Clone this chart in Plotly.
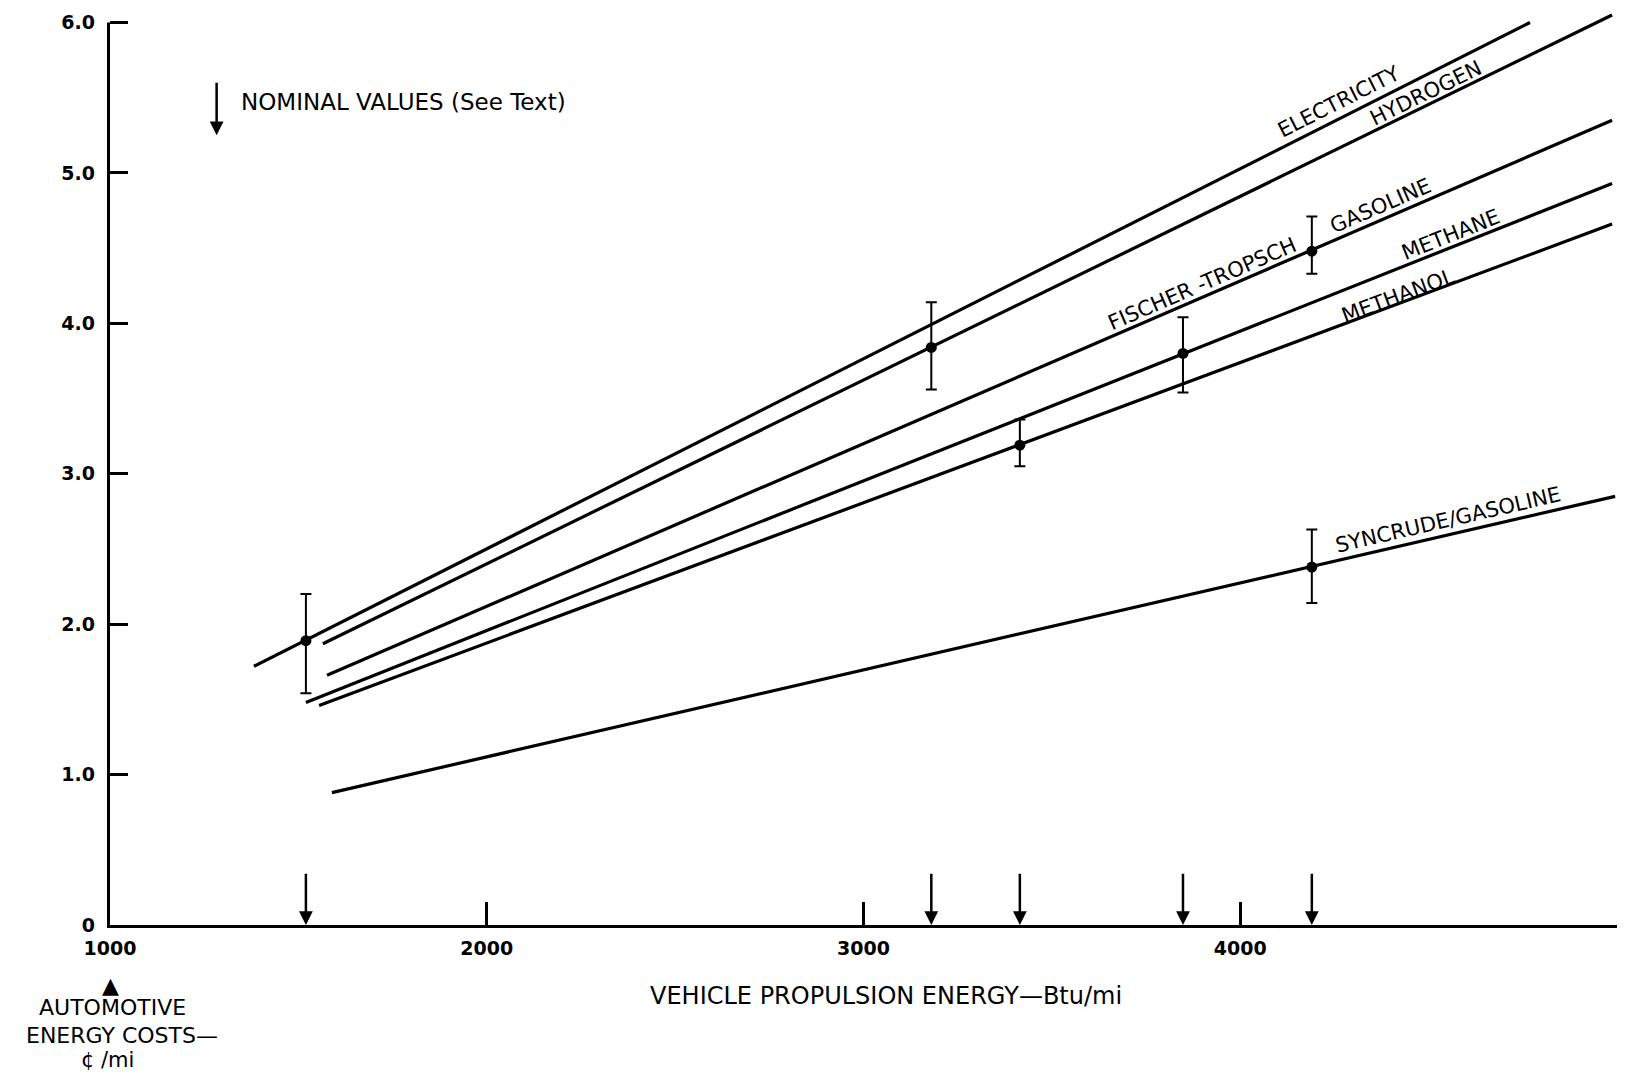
import math
import plotly.graph_objects as go

# ---------------- data ----------------
fuels = ["ELECTRICITY", "HYDROGEN", "GASOLINE", "METHANE", "METHANOL", "SYNCRUDE/GASOLINE"]
line_x_start = [1382, 1565, 1576, 1520, 1555, 1589]
line_y_start = [1.72, 1.87, 1.66, 1.48, 1.46, 0.88]
line_x_end = [4769, 4987, 4987, 4987, 4987, 4995]
line_y_end = [6.00, 6.05, 5.35, 4.93, 4.66, 2.85]

nominal_x = [1520, 3180, 3415, 3848, 4190, 4190]
nominal_y = [1.89, 3.84, 3.19, 3.80, 4.48, 2.38]
err_plus = [0.31, 0.30, 0.17, 0.24, 0.23, 0.25]
err_minus = [0.35, 0.28, 0.14, 0.26, 0.15, 0.24]

label_text = ["ELECTRICITY", "HYDROGEN", "FISCHER -TROPSCH", "GASOLINE", "METHANE", "METHANOL", "SYNCRUDE/GASOLINE"]
label_line = [0, 1, 2, 2, 3, 4, 5]
label_x = [4260, 4493, 3899, 4371, 4557, 4419, 4551]
label_y = [5.475, 5.534, 4.26, 4.78, 4.59, 4.18, 2.69]

x_tick_vals = [1000, 2000, 3000, 4000, 5000]
x_tick_text = ["1000", "2000", "3000", "4000", "5000"]
y_tick_vals = [0, 1, 2, 3, 4, 5, 6]
y_tick_text = ["0", "1.0", "2.0", "3.0", "4.0", "5.0", "6.0"]

# ---------------- layout geometry ----------------
OFF = 8                      # page body margin of the html page
W, H = 1641 - 2 * OFF, 1084 - 2 * OFF
PLOT_L, PLOT_R, PLOT_T, PLOT_B = 110, 1617, 12, 925   # wanted window pixels
ML = PLOT_L - OFF
MT = PLOT_T - OFF
MR = W - (PLOT_R - OFF)
MB = H - (PLOT_B - OFF)
X_RANGE = [1000, 5000]
Y_RANGE = [0, 6.07]
pw = W - ML - MR
ph = H - MT - MB
px_per_x = pw / (X_RANGE[1] - X_RANGE[0])
px_per_y = ph / (Y_RANGE[1] - Y_RANGE[0])


def paper_x(px):
    return (px - OFF - ML) / pw


def paper_y(py):
    return ((PLOT_B - OFF) - (py - OFF)) / ph


FONT = "DejaVu Sans, Verdana, Arial, sans-serif"

fig = go.Figure()

for i, name in enumerate(fuels):
    fig.add_trace(go.Scatter(
        x=[line_x_start[i], line_x_end[i]],
        y=[line_y_start[i], line_y_end[i]],
        mode="lines", name=name,
        line=dict(color="black", width=3.2),
        showlegend=False, hoverinfo="skip",
    ))

fig.add_trace(go.Scatter(
    x=nominal_x, y=nominal_y, mode="markers",
    marker=dict(color="black", size=11),
    error_y=dict(type="data", array=err_plus, arrayminus=err_minus,
                 color="black", thickness=2, width=5.5),
    showlegend=False, hoverinfo="skip",
))

annotations = []

# line labels, rotated along their lines
for t, li, lx, ly in zip(label_text, label_line, label_x, label_y):
    slope = (line_y_end[li] - line_y_start[li]) / (line_x_end[li] - line_x_start[li])
    ang = -math.degrees(math.atan(slope * px_per_y / px_per_x))
    annotations.append(dict(
        x=lx, y=ly, xref="x", yref="y", text=t, showarrow=False,
        textangle=ang, xanchor="center", yanchor="middle",
        font=dict(family=FONT, size=21, color="black"),
    ))

# nominal-value arrows on the x axis
for xv in sorted(set(nominal_x)):
    annotations.append(dict(
        x=xv, y=0, ax=xv, ay=0.35, xref="x", yref="y", axref="x", ayref="y",
        text="", showarrow=True, arrowhead=2, arrowsize=1.1, arrowwidth=2.5,
        arrowcolor="black", standoff=0,
    ))

# legend arrow and text
annotations.append(dict(
    x=1283, y=5.25, ax=1283, ay=5.61, xref="x", yref="y", axref="x", ayref="y",
    text="", showarrow=True, arrowhead=2, arrowsize=1.1, arrowwidth=2.5,
    arrowcolor="black", standoff=0,
))
annotations.append(dict(
    x=1342, y=5.47, xref="x", yref="y", text="NOMINAL VALUES (See Text)",
    showarrow=False, xanchor="left", yanchor="middle",
    font=dict(family=FONT, size=23, color="black"),
))

# x axis title
annotations.append(dict(
    x=paper_x(886), y=paper_y(996), xref="paper", yref="paper",
    text="VEHICLE PROPULSION ENERGY—Btu/mi", showarrow=False,
    xanchor="center", yanchor="middle",
    font=dict(family=FONT, size=24, color="black"),
))

# y axis title block at lower left
annotations.append(dict(
    x=paper_x(110), y=paper_y(985), xref="paper", yref="paper",
    text="▲", showarrow=False, xanchor="center", yanchor="middle",
    font=dict(family=FONT, size=22, color="black"),
))
for txt, cx, cy, fs in [("AUTOMOTIVE", 112, 1008, 22), ("ENERGY COSTS—", 122, 1035, 22), ("¢ /mi", 107, 1060, 21)]:
    annotations.append(dict(
        x=paper_x(cx), y=paper_y(cy), xref="paper", yref="paper",
        text=txt, showarrow=False, xanchor="center", yanchor="middle",
        font=dict(family=FONT, size=fs, color="black"),
    ))

# y axis line (ends at 6.0)
shapes = [dict(
    type="line", xref="paper", yref="paper",
    x0=-1.5 / pw, x1=-1.5 / pw,
    y0=-3 / ph, y1=(6 - Y_RANGE[0]) / (Y_RANGE[1] - Y_RANGE[0]),
    line=dict(color="black", width=3),
)]

fig.update_layout(
    width=W, height=H,
    margin=dict(l=ML, r=MR, t=MT, b=MB),
    paper_bgcolor="white", plot_bgcolor="white",
    showlegend=False,
    annotations=annotations,
    shapes=shapes,
    xaxis=dict(
        range=X_RANGE, showline=True, linecolor="black", linewidth=3,
        ticks="inside", ticklen=23, tickwidth=2.5, tickcolor="black",
        tickvals=x_tick_vals, ticktext=x_tick_text,
        tickfont=dict(family=FONT, size=19, color="black", weight="bold"),
        showgrid=False, zeroline=False, ticklabelstandoff=4,
    ),
    yaxis=dict(
        range=Y_RANGE, showline=False,
        ticks="inside", ticklen=18, tickwidth=2.5, tickcolor="black",
        tickvals=y_tick_vals, ticktext=y_tick_text,
        tickfont=dict(family=FONT, size=19, color="black", weight="bold"),
        showgrid=False, zeroline=False, ticklabelstandoff=14,
    ),
)

fig.write_html("out.html")
